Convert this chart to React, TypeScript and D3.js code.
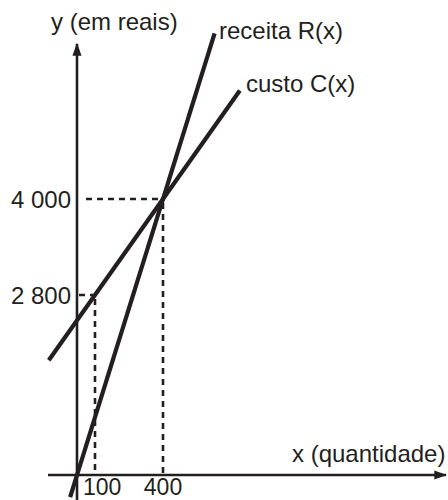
import React, { useEffect, useRef } from 'react';
import * as d3 from 'd3';

// values
const xTicks = [100, 400];
const yTicks = [2800, 4000];
const yTickLabels = ['2 800', '4 000'];
const xTickLabels = ['100', '400'];

// each line is defined by two points (quantidade, reais)
const revenuePoints: [number, number][] = [[0, 0], [400, 4000]];
const costPoints: [number, number][] = [[100, 2800], [400, 4000]];

// dashed guides: [x, y] points projected on the axes
const guidePoints: [number, number][] = [[100, 2800], [400, 4000]];

const W = 448;
const H = 500;
const INK = '#231f20';
const FONT = '"Liberation Sans", Arial, Helvetica, sans-serif';

const App: React.FC = () => {
  const svgRef = useRef<SVGSVGElement>(null);

  useEffect(() => {
    if (!svgRef.current) return;
    const svg = d3.select(svgRef.current);
    svg.selectAll('*').remove();

    // the figure is schematic, so the scales are piecewise
    const x = d3.scaleLinear().domain([0, 100, 400]).range([77, 95, 163]);
    const y = d3.scaleLinear().domain([0, 2800, 4000]).range([475, 295, 199]);

    const x0 = x(0);
    const y0 = y(0);

    // arrow heads
    const defs = svg.append('defs');
    defs.append('marker')
      .attr('id', 'arrow')
      .attr('viewBox', '0 0 10 10')
      .attr('refX', 9)
      .attr('refY', 5)
      .attr('markerWidth', 5)
      .attr('markerHeight', 5)
      .attr('markerUnits', 'strokeWidth')
      .attr('orient', 'auto')
      .append('path')
      .attr('d', 'M0,1.5 L10,5 L0,8.5 Z')
      .attr('fill', INK);

    // dashed guides
    const guides = svg.append('g')
      .attr('stroke', INK)
      .attr('stroke-width', 2.6)
      .attr('stroke-dasharray', '6,5')
      .attr('fill', 'none');

    guidePoints.forEach(([gx, gy], i) => {
      guides.append('line')
        .attr('x1', x0 + (i === 0 ? 2 : 9))
        .attr('x2', x(gx))
        .attr('y1', y(gy))
        .attr('y2', y(gy));
      guides.append('line')
        .attr('x1', x(gx))
        .attr('x2', x(gx))
        .attr('y1', y(gy) + 4)
        .attr('y2', y0);
    });

    // axes
    svg.append('line')
      .attr('x1', 48).attr('x2', 446)
      .attr('y1', y0).attr('y2', y0)
      .attr('stroke', INK)
      .attr('stroke-width', 2.6)
      .attr('marker-end', 'url(#arrow)');

    svg.append('line')
      .attr('x1', x0).attr('x2', x0)
      .attr('y1', 500).attr('y2', 44)
      .attr('stroke', INK)
      .attr('stroke-width', 2.6)
      .attr('marker-end', 'url(#arrow)');

    // lines, extended beyond their defining points
    const extend = (pts: [number, number][], t0: number, t1: number) => {
      const [ax, ay] = [x(pts[0][0]), y(pts[0][1])];
      const [bx, by] = [x(pts[1][0]), y(pts[1][1])];
      return [
        [ax + (bx - ax) * t0, ay + (by - ay) * t0],
        [ax + (bx - ax) * t1, ay + (by - ay) * t1],
      ] as [number, number][];
    };

    const line = d3.line();
    svg.append('path')
      .attr('d', line(extend(revenuePoints, -0.08, 1.6)))
      .attr('stroke', INK)
      .attr('stroke-width', 4.2)
      .attr('fill', 'none');

    svg.append('path')
      .attr('d', line(extend(costPoints, -0.68, 2.13)))
      .attr('stroke', INK)
      .attr('stroke-width', 4.2)
      .attr('fill', 'none');

    // texts
    const text = (tx: number, ty: number, s: string, anchor = 'start', size = 24) =>
      svg.append('text')
        .attr('x', tx)
        .attr('y', ty)
        .attr('text-anchor', anchor)
        .style('font-family', FONT)
        .style('font-size', `${size}px`)
        .style('fill', INK)
        .text(s);

    yTicks.forEach((v, i) => {
      text(x0 - 6, y(v) + 9, yTickLabels[i], 'end');
    });

    xTicks.forEach((v, i) => {
      if (i === 0) text(x(v) - 12, 495, xTickLabels[i], 'start', 23);
      else text(x(v), 495, xTickLabels[i], 'middle', 23);
    });

    text(51, 30, 'y (em reais)');
    text(292, 462, 'x (quantidade)');
    text(219, 39, 'receita R(x)');
    text(246, 92, 'custo C(x)');
  }, []);

  return (
    <svg
      ref={svgRef}
      width={W}
      height={H}
      style={{ position: 'absolute', left: 0, top: 0, background: '#fff' }}
    />
  );
};

export default App;
